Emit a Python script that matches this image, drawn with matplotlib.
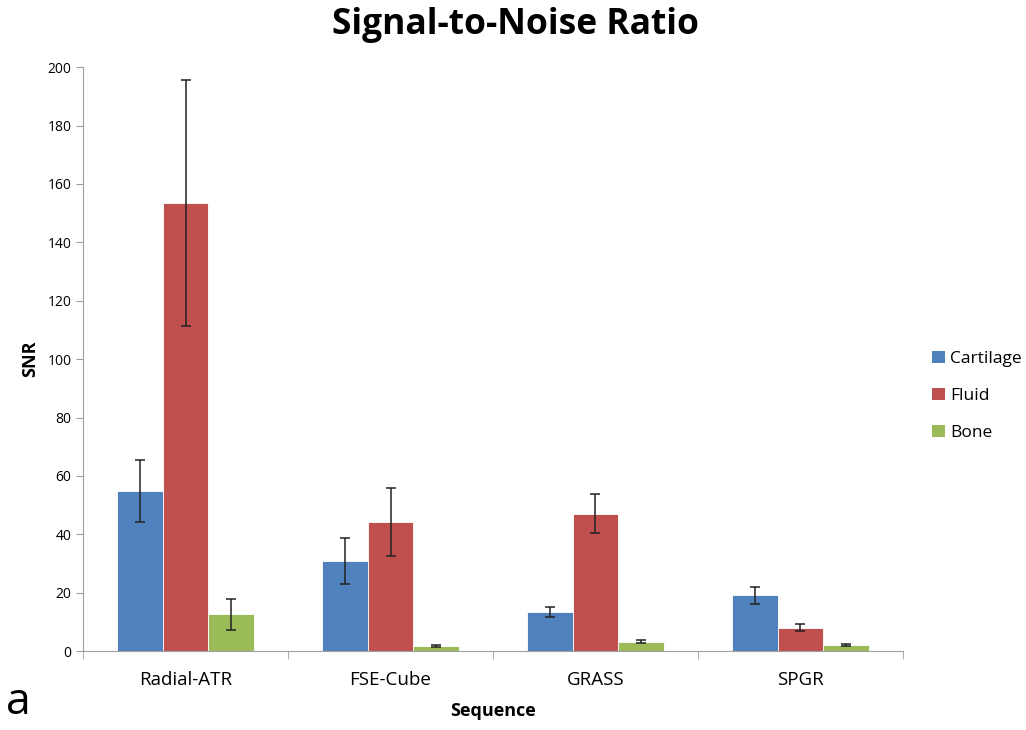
"""
Grouped bar chart of SNR per sequence and tissue, with error bars.
"""
import numpy as np
import matplotlib.pyplot as plt
from matplotlib.patches import Patch

plt.rcParams["font.family"] = ["Open Sans", "DejaVu Sans"]

sequences = ["Radial-ATR", "FSE-Cube", "GRASS", "SPGR"]
tissues = ["Cartilage", "Fluid", "Bone"]

cartilage = [54.8, 30.8, 13.4, 19.1]
fluid = [153.4, 44.2, 47.1, 8.1]
bone = [12.7, 1.8, 3.3, 2.1]

cartilage_err = [10.7, 7.9, 1.7, 3.0]
fluid_err = [42.2, 11.6, 6.7, 1.1]
bone_err = [5.3, 0.4, 0.4, 0.4]

colors = ["#4F81BD", "#C0504D", "#9BBB59"]


def main():
    fig = plt.figure(figsize=(10.26, 7.3), dpi=100)
    ax = fig.add_axes([0.081, 0.108, 0.799, 0.800])

    x = np.arange(len(sequences))
    width = 0.223
    series = [(cartilage, cartilage_err), (fluid, fluid_err), (bone, bone_err)]
    for i, (vals, errs) in enumerate(series):
        ax.bar(x + (i - 1) * width, vals, width, yerr=errs, color=colors[i],
               edgecolor="white", linewidth=0.6, label=tissues[i],
               error_kw=dict(ecolor="#222222", elinewidth=1.1,
                             capsize=3.5, capthick=1.1))

    ax.set_xlim(-0.5, len(sequences) - 0.5)
    ax.set_ylim(0, 200)
    ax.set_yticks(range(0, 201, 20))
    ax.set_xticks(x)
    ax.set_xticklabels(sequences, fontsize=13.5)
    ax.set_xticks(np.arange(-0.5, len(sequences)), minor=True)
    ax.tick_params(axis="x", which="major", length=0, pad=14)
    ax.tick_params(axis="x", which="minor", length=6, color="#a0a0a0")
    ax.tick_params(axis="y", length=5, color="#a0a0a0", labelsize=10)

    for side in ("top", "right"):
        ax.spines[side].set_visible(False)
    for side in ("left", "bottom"):
        ax.spines[side].set_color("#a0a0a0")

    ax.set_ylabel("SNR", fontsize=13, fontweight="bold", labelpad=6)
    ax.set_xlabel("Sequence", fontsize=13, fontweight="bold", labelpad=10)

    fig.text(0.502, 0.966, "Signal-to-Noise Ratio", ha="center", va="center",
             fontsize=25.5, fontweight="bold")
    fig.text(0.006, 0.022, "a", fontsize=32, ha="left", va="baseline")

    handles = [Patch(facecolor=c, label=t) for c, t in zip(colors, tissues)]
    fig.legend(handles=handles, loc="center left",
               bbox_to_anchor=(0.897, 0.457), frameon=False, fontsize=12.5,
               handlelength=0.7, handleheight=0.7, handletextpad=0.3,
               labelspacing=1.2, borderpad=0.2)

    fig.savefig("out.png", dpi=100)


if __name__ == "__main__":
    main()
